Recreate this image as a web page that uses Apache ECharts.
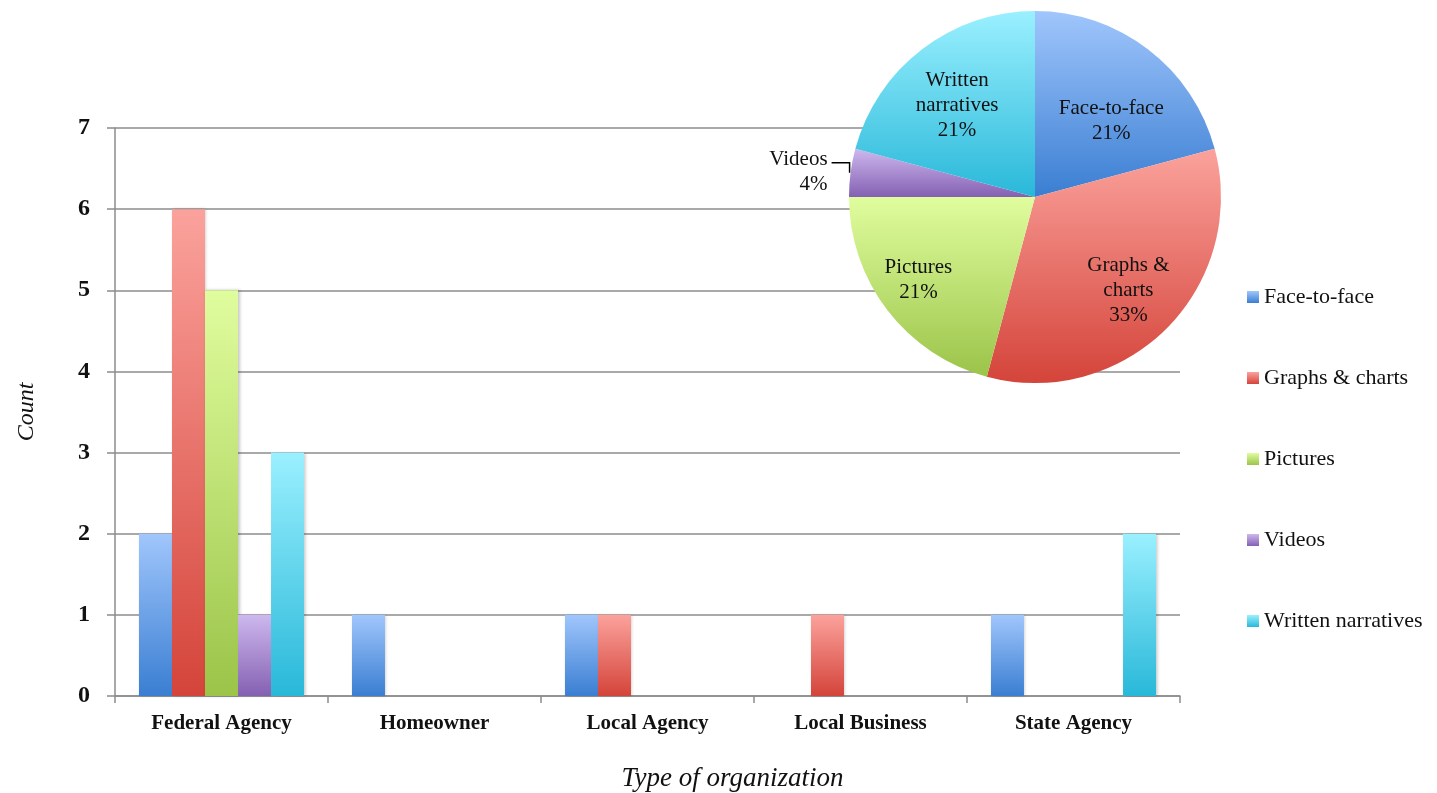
<!DOCTYPE html>
<html>
<head>
<meta charset="utf-8">
<title>Preferred communication formats by type of organization</title>
<script src="https://cdn.jsdelivr.net/npm/echarts@6/dist/echarts.min.js"></script>
<style>
  html, body { margin: 0; padding: 0; background: #ffffff; }
  #chart { width: 1437px; height: 793px; }
</style>
</head>
<body>
<div id="chart"></div>
<script>
// Organization types along the x axis
const categories = ['Federal Agency', 'Homeowner', 'Local Agency', 'Local Business', 'State Agency'];

// Number of respondents preferring each format, per organization type
const faceToFace        = [2, 1, 1, 0, 1];
const graphsCharts      = [6, 0, 1, 1, 0];
const pictures          = [5, 0, 0, 0, 0];
const videos            = [1, 0, 0, 0, 0];
const writtenNarratives = [3, 0, 0, 0, 2];

const seriesNames = ['Face-to-face', 'Graphs & charts', 'Pictures', 'Videos', 'Written narratives'];
const seriesValues = [faceToFace, graphsCharts, pictures, videos, writtenNarratives];

// Labels shown inside the pie slices (line-broken versions of the names)
const pieLabels = ['Face-to-face', 'Graphs &\ncharts', 'Pictures', 'Videos', 'Written\nnarratives'];

// Y axis ticks
const yTicks = [0, 1, 2, 3, 4, 5, 6, 7];

// Light-to-dark vertical gradient stops for each format
const gradientStops = [
  ['#a0c6fc', '#3a7ed2'],
  ['#fba29c', '#d4443a'],
  ['#e0fd9e', '#9bc449'],
  ['#cdb8ee', '#8560b2'],
  ['#9af0ff', '#29b8d9']
];

function grad(i) {
  return new echarts.graphic.LinearGradient(0, 0, 0, 1, [
    { offset: 0, color: gradientStops[i][0] },
    { offset: 1, color: gradientStops[i][1] }
  ]);
}

const serif = '"Liberation Serif", "DejaVu Serif", serif';

// Totals per format feed the pie
const totals = seriesValues.map(arr => arr.reduce((a, b) => a + b, 0));
const grandTotal = totals.reduce((a, b) => a + b, 0);

// Inside-label placement: fraction of the radius, and angular nudge (degrees) from the slice middle
const labelRadius = [0.58, 0.71, 0.77, 1, 0.645];
const labelNudge  = [7.5, 0, 2, 0, -3];

const pieCenter = [1035, 197];
const pieRadius = 186;

// Middle angle (radians, clockwise from 12 o'clock) of slice i
function midAngle(i, nudge) {
  let before = 0;
  for (let k = 0; k < i; k++) before += totals[k];
  return ((before + totals[i] / 2) / grandTotal * 360 + (nudge || 0)) * Math.PI / 180;
}

const barSeries = seriesNames.map((name, i) => ({
  name: name,
  type: 'bar',
  data: seriesValues[i],
  barGap: '0%',
  barCategoryGap: '22.5%',
  itemStyle: {
    color: grad(i),
    shadowColor: 'rgba(0,0,0,0.22)',
    shadowBlur: 3,
    shadowOffsetX: 1.5,
    shadowOffsetY: 0
  },
  emphasis: { disabled: true }
}));

const pieSeries = {
  type: 'pie',
  center: pieCenter,
  radius: pieRadius,
  startAngle: 90,
  clockwise: true,
  z: 5,
  silent: true,
  legendHoverLink: false,
  data: seriesNames.map((name, i) => {
    const item = {
      name: name,
      value: totals[i],
      itemStyle: { color: grad(i) }
    };
    if (name === 'Videos') {
      item.label = {
        position: 'outside',
        align: 'right',
        verticalAlign: 'middle',
        lineHeight: 25
      };
      item.labelLine = { show: true, length: 6, length2: 12, lineStyle: { color: '#000', width: 1.5 } };
    }
    return item;
  }),
  label: {
    show: true,
    position: 'inside',
    fontFamily: serif,
    fontSize: 21,
    color: '#111',
    lineHeight: 25,
    align: 'center',
    formatter: p => pieLabels[p.dataIndex] + '\n' + Math.round(p.percent) + '%'
  },
  labelLine: { show: false },
  labelLayout: function (params) {
    const i = params.dataIndex;
    if (seriesNames[i] === 'Videos') {
      // bracket-shaped leader: up from the slice rim, then left to the label
      const a = midAngle(i);
      const ex = pieCenter[0] + pieRadius * Math.sin(a) - 1;
      const ey = pieCenter[1] - pieRadius * Math.cos(a);
      return {
        x: ex - 22,
        y: ey - 1,
        labelLinePoints: [[ex, ey], [ex, ey - 10], [ex - 18, ey - 10]]
      };
    }
    const a = midAngle(i, labelNudge[i]);
    const rr = pieRadius * labelRadius[i];
    return {
      x: pieCenter[0] + rr * Math.sin(a),
      y: pieCenter[1] - rr * Math.cos(a)
    };
  }
};

const chart = echarts.init(document.getElementById('chart'), null, { renderer: 'canvas' });

chart.setOption({
  animation: false,
  backgroundColor: '#ffffff',
  grid: { left: 115, right: 257, top: 128, bottom: 97, containLabel: false, outerBoundsMode: 'none' },
  legend: {
    data: seriesNames,
    orient: 'vertical',
    left: 1242,
    top: 281,
    itemWidth: 12,
    itemHeight: 12,
    itemGap: 59,
    icon: 'rect',
    textStyle: { fontFamily: serif, fontSize: 22, color: '#111' },
    selectedMode: false
  },
  xAxis: {
    type: 'category',
    data: categories,
    name: 'Type of organization',
    nameLocation: 'middle',
    nameGap: 69,
    nameTextStyle: { fontFamily: serif, fontStyle: 'italic', fontSize: 27, color: '#111', padding: [0, 0, 0, 170] },
    axisLine: { lineStyle: { color: '#8c8c8c', width: 1.5 } },
    axisTick: { show: true, length: 7, lineStyle: { color: '#8c8c8c', width: 1.5 } },
    axisLabel: { margin: 17, fontFamily: serif, fontWeight: 'bold', fontSize: 21, color: '#111' }
  },
  yAxis: {
    type: 'value',
    min: yTicks[0],
    max: yTicks[yTicks.length - 1],
    interval: 1,
    name: 'Count',
    nameLocation: 'middle',
    nameGap: 76,
    nameTextStyle: { fontFamily: serif, fontStyle: 'italic', fontSize: 24, color: '#111' },
    axisLine: { show: true, lineStyle: { color: '#8c8c8c', width: 1.5 } },
    axisTick: { show: true, length: 8, lineStyle: { color: '#8c8c8c', width: 1.5 } },
    axisLabel: { margin: 25, fontFamily: serif, fontWeight: 'bold', fontSize: 24, color: '#111' },
    splitLine: { show: true, lineStyle: { color: '#8c8c8c', width: 1.5 } }
  },
  series: barSeries.concat([pieSeries])
});
</script>
</body>
</html>
